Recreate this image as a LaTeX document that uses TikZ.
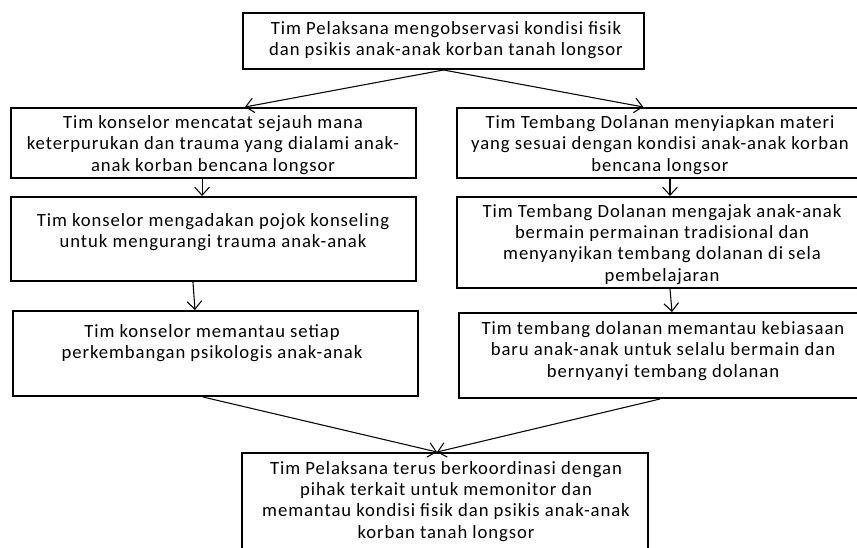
\documentclass[tikz,border=0pt]{standalone}
\usepackage{fontspec}
\setmainfont{Carlito}[LetterSpace=5]
\usetikzlibrary{arrows.meta,positioning}

\begin{document}
\begin{tikzpicture}[x=0.75pt,y=-0.75pt,
    kotak/.style={draw,line width=1.5pt,minimum width=405*0.75pt,inner sep=0pt},
    isi/.style={align=center,inner sep=0pt,font=\fontsize{14}{15.9}\selectfont},
    panah/.style={line width=0.8pt,-{Straight Barb[length=6pt,width=11pt]}}]
  \useasboundingbox (0,0) rectangle (857,548);
  \clip (0,0) rectangle (857,548);
  % kotak
  \node[kotak,minimum width=401*0.75pt,minimum height=56*0.75pt] (atas) at (443.5,41) {};
  \node[kotak,minimum height=70*0.75pt] (k1) at (213.5,143) {};
  \node[kotak,minimum height=84*0.75pt] (k2) at (213.5,239) {};
  \node[kotak,minimum height=85*0.75pt] (k3) at (215.5,353.5) {};
  \node[kotak,minimum width=410*0.75pt,minimum height=70*0.75pt] (t1) at (662,143) {};
  \node[kotak,minimum width=410*0.75pt,minimum height=91*0.75pt] (t2) at (662,242.5) {};
  \node[kotak,minimum width=410*0.75pt,minimum height=85*0.75pt] (t3) at (664,355.5) {};
  \node[kotak,minimum width=406*0.75pt,minimum height=110*0.75pt] (bawah) at (445,508) {};
  % teks
  \node[isi] (atas-t) at (446,40) {Tim Pelaksana mengobservasi kondisi fisik\\dan psikis anak-anak korban tanah longsor};
  \node[isi] (k1-t) at (213,145) {Tim konselor mencatat sejauh mana\\keterpurukan dan trauma yang dialami anak-\\anak korban bencana longsor};
  \node[isi] (k2-t) at (213,232) {Tim konselor mengadakan pojok konseling\\untuk mengurangi trauma anak-anak};
  \node[isi] (k3-t) at (212,343) {Tim konselor memantau setiap\\perkembangan psikologis anak-anak};
  \node[isi] (t1-t) at (660,145) {Tim Tembang Dolanan menyiapkan materi\\yang sesuai dengan kondisi anak-anak korban\\bencana longsor};
  \node[isi] (t2-t) at (662,244.5) {Tim Tembang Dolanan mengajak anak-anak\\bermain permainan tradisional dan\\menyanyikan tembang dolanan di sela\\pembelajaran};
  \node[isi] (t3-t) at (663,351) {Tim tembang dolanan memantau kebiasaan\\baru anak-anak untuk selalu bermain dan\\bernyanyi tembang dolanan};
  \node[isi] (bawah-t) at (446,501.5) {Tim Pelaksana terus berkoordinasi dengan\\pihak terkait untuk memonitor dan\\memantau kondisi fisik dan psikis anak-anak\\korban tanah longsor};
  % panah
  \draw[panah] (atas.south) -- ([xshift=23.6pt]k1.north);
  \draw[panah] (atas.south) -- ([xshift=-14pt]t1.north);
  \draw[panah] ([xshift=-8.6pt]k1.south) -- ([xshift=-8.6pt]k2.north);
  \draw[panah] ([xshift=-15.4pt]k2.south) -- ([xshift=-15.4pt]k3.north);
  \draw[panah] ([xshift=6pt]t1.south) -- ([xshift=6pt]t2.north);
  \draw[panah] ([xshift=6pt]t2.south) -- ([xshift=6pt]t3.north);
  \draw[panah] ([xshift=-9.4pt]k3.south) -- ([xshift=-6pt]bawah.north);
  \draw[panah] ([xshift=-3pt]t3.south) -- ([xshift=-6pt]bawah.north);
\end{tikzpicture}
\end{document}
